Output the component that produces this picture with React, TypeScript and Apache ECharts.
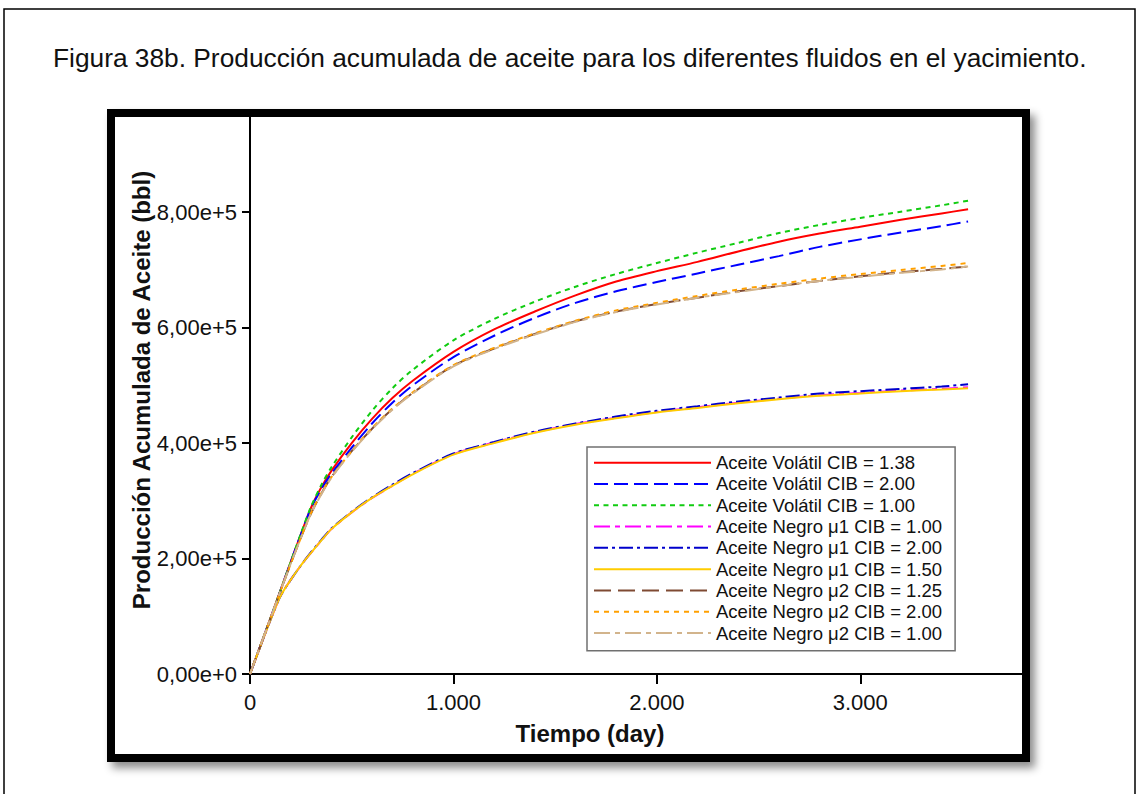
import React, { useEffect, useRef } from "react";
import * as echarts from "echarts";

const FONT = '"Liberation Sans", Arial, sans-serif';

const tDays = [0, 50, 100, 150, 200, 250, 300, 350, 400, 500, 600, 700, 800, 1000, 1200, 1400, 1600, 1800, 2000, 2200, 2400, 2600, 2800, 3000, 3200, 3400, 3530];

// values in thousands of bbl
const volatil138 = [0, 48, 96, 145, 194, 242, 288, 323, 352, 400, 442, 478, 508, 558, 597, 628, 656, 680, 698, 714, 732, 749, 763, 775, 787, 798, 805];
const volatil200 = [0, 48, 96, 145, 194, 242, 287, 320, 347, 392, 434, 470, 500, 549, 586, 617, 643, 663, 679, 694, 709, 724, 740, 753, 765, 776, 784];
const volatil100 = [0, 48, 96, 145, 194, 243, 290, 327, 358, 410, 456, 495, 527, 578, 615, 645, 671, 693, 712, 730, 747, 764, 778, 790, 801, 812, 820];
const negroMu1_100 = [0, 47, 93, 135, 163, 188, 210, 231, 251, 280, 305, 326, 347, 381, 401, 419, 433, 444, 454, 462, 470, 477, 483, 487, 491, 494, 497];
const negroMu1_200 = [0, 47, 93, 135, 163, 188, 211, 232, 252, 281, 306, 328, 348, 382, 402, 420, 434, 446, 456, 464, 472, 479, 486, 490, 494, 498, 502];
const negroMu1_150 = [0, 47, 93, 135, 163, 188, 210, 231, 251, 280, 305, 326, 346, 380, 400, 418, 432, 443, 453, 461, 469, 476, 482, 486, 490, 493, 495];
const negroMu2_125 = [0, 48, 96, 144, 191, 236, 278, 312, 341, 386, 425, 459, 487, 534, 564, 589, 611, 628, 641, 652, 663, 672, 681, 689, 696, 702, 706];
const negroMu2_200 = [0, 48, 96, 144, 191, 236, 279, 313, 341, 386, 426, 460, 488, 535, 565, 590, 612, 630, 643, 655, 666, 676, 685, 693, 700, 707, 712];
const negroMu2_100 = [0, 48, 96, 144, 191, 236, 278, 311, 340, 385, 424, 458, 486, 533, 563, 588, 610, 627, 640, 652, 662, 672, 681, 688, 695, 701, 706];

const seriesNames = [
  "Aceite Volátil CIB = 1.38",
  "Aceite Volátil CIB = 2.00",
  "Aceite Volátil CIB = 1.00",
  "Aceite Negro μ1 CIB = 1.00",
  "Aceite Negro μ1 CIB = 2.00",
  "Aceite Negro μ1 CIB = 1.50",
  "Aceite Negro μ2 CIB = 1.25",
  "Aceite Negro μ2 CIB = 2.00",
  "Aceite Negro μ2 CIB = 1.00",
];
const seriesValues = [volatil138, volatil200, volatil100, negroMu1_100, negroMu1_200, negroMu1_150, negroMu2_125, negroMu2_200, negroMu2_100];
const seriesColors = ["#ff0000", "#0000ff", "#11cc11", "#ff00ff", "#0000cc", "#ffcc00", "#7f4a33", "#ffa000", "#d2b48c"];
const seriesDash: any[] = ["solid", [14, 6], [5, 4.5], [16, 5, 5, 5], [14, 4, 3, 4], "solid", [17, 7], [5, 5], [16, 5, 5, 5]];

const xTicks = [0, 1000, 2000, 3000];
const yTicks = [0, 200000, 400000, 600000, 800000];

export default function App() {
  const ref = useRef<HTMLDivElement>(null);
  useEffect(() => {
    const chart = echarts.init(ref.current!, null, { renderer: "svg" });
    const series = seriesNames.map((name, i) => ({
      name,
      type: "line",
      data: tDays.map((t, j) => [t, seriesValues[i][j] * 1000]),
      showSymbol: false,
      symbol: "none",
      smooth: 0.3,
      silent: true,
      lineStyle: { color: seriesColors[i], width: 2, type: seriesDash[i] },
      itemStyle: { color: seriesColors[i] },
      z: 2 + i * 0.01,
    }));
    chart.setOption({
      animation: false,
      backgroundColor: "#fff",
      textStyle: { fontFamily: FONT },
      grid: { left: 250, right: 117, top: 117, bottom: 120 },
      xAxis: {
        type: "value",
        min: 0,
        max: 3800,
        splitLine: { show: false },
        axisLine: { show: true, lineStyle: { color: "#000", width: 2 } },
        axisTick: { show: true, length: 10, lineStyle: { color: "#000", width: 2 }, customValues: xTicks },
        axisLabel: {
          customValues: xTicks,
          margin: 17,
          fontSize: 22,
          color: "#111",
          fontFamily: FONT,
          formatter: (v: number) => (v === 0 ? "0" : `${Math.round(v / 1000)}.000`),
        },
      },
      yAxis: {
        type: "value",
        min: 0,
        max: 965000,
        splitLine: { show: false },
        axisLine: { show: true, lineStyle: { color: "#000", width: 2 } },
        axisTick: { show: true, length: 8, lineStyle: { color: "#000", width: 2 }, customValues: yTicks },
        axisLabel: {
          customValues: yTicks,
          margin: 13,
          fontSize: 22,
          color: "#111",
          fontFamily: FONT,
          formatter: (v: number) => (v === 0 ? "0,00e+0" : `${(v / 1e5).toFixed(2).replace(".", ",")}e+5`),
        },
      },
      legend: {
        orient: "vertical",
        left: 587,
        top: 447,
        padding: [5, 13, 7, 6],
        backgroundColor: "#fff",
        borderColor: "#707070",
        borderWidth: 1.5,
        borderRadius: 0,
        itemWidth: 117,
        itemHeight: 14,
        itemGap: 0,
        selectedMode: false,
        itemStyle: { opacity: 0 },
        textStyle: { fontSize: 18.5, fontFamily: FONT, color: "#111", lineHeight: 21.3 },
        data: seriesNames,
      },
      graphic: [
        {
          type: "rect",
          z: -20,
          shape: { x: 4, y: 9, width: 1131, height: 820 },
          style: { fill: "#fff", stroke: "#000", lineWidth: 1.5 },
        },
        {
          type: "rect",
          z: -10,
          shape: { x: 111, y: 113, width: 915, height: 645 },
          style: {
            fill: "#fff",
            stroke: "#000",
            lineWidth: 8,
            shadowBlur: 8,
            shadowOffsetX: 5,
            shadowOffsetY: 6,
            shadowColor: "rgba(0,0,0,0.45)",
          },
        },
        {
          type: "text",
          z: 5,
          x: 53,
          y: 58,
          style: {
            text: "Figura 38b. Producción acumulada de aceite para los diferentes fluidos en el yacimiento.",
            fontSize: 26.3,
            fontFamily: FONT,
            fill: "#111",
            align: "left",
            verticalAlign: "middle",
          },
        },
        {
          type: "text",
          z: 5,
          x: 141,
          y: 390,
          rotation: Math.PI / 2,
          style: {
            text: "Producción Acumulada de Aceite (bbl)",
            fontSize: 24,
            fontWeight: "bold",
            fontFamily: FONT,
            fill: "#111",
            align: "center",
            verticalAlign: "middle",
          },
        },
        {
          type: "text",
          z: 5,
          x: 590,
          y: 733,
          style: {
            text: "Tiempo (day)",
            fontSize: 24,
            fontWeight: "bold",
            fontFamily: FONT,
            fill: "#111",
            align: "center",
            verticalAlign: "middle",
          },
        },
      ],
      series,
    });
    return () => chart.dispose();
  }, []);
  return (
    <div
      ref={ref}
      style={{ position: "absolute", left: 0, top: 0, width: 1140, height: 794, background: "#fff" }}
    />
  );
}
